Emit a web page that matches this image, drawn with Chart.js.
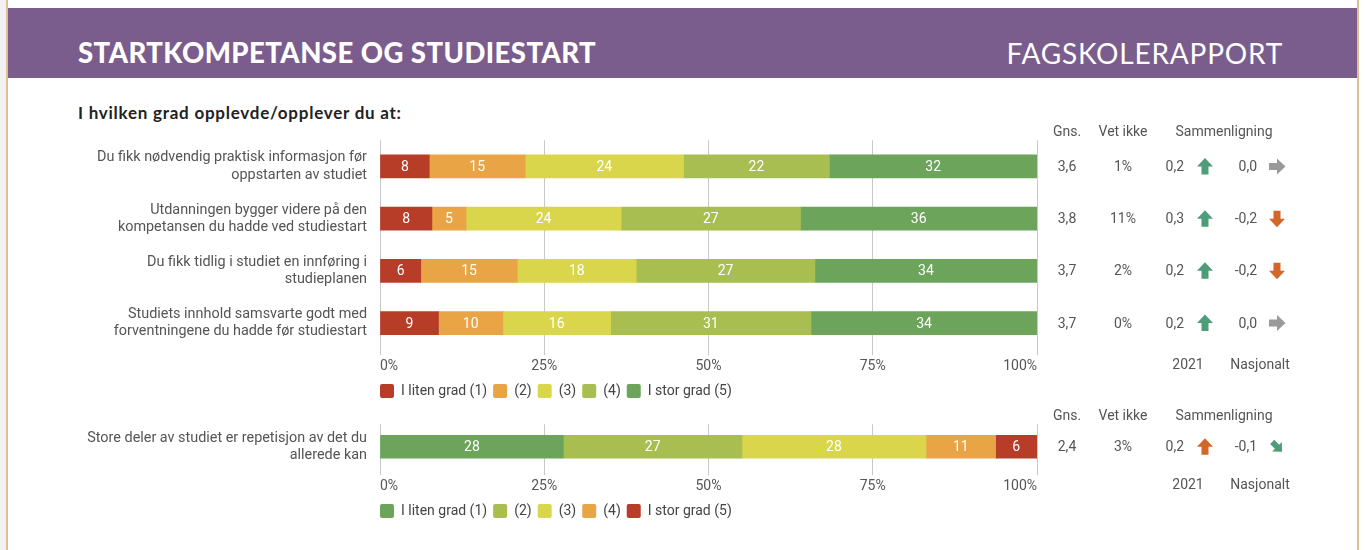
<!DOCTYPE html>
<html>
<head>
<meta charset="utf-8">
<script src="https://cdn.jsdelivr.net/npm/chart.js@4/dist/chart.umd.min.js"></script>
<style>
  html,body{margin:0;padding:0;background:#fff;}
  body{width:1365px;height:550px;position:relative;overflow:hidden;font-family:Roboto, sans-serif;}
  .lstrip{position:absolute;left:0;top:0;width:6px;height:550px;background:#f1f1f1;}
  .lline{position:absolute;left:6px;top:0;width:2px;height:550px;background:#dcbf93;}
  .rline{position:absolute;left:1357px;top:0;width:2px;height:550px;background:#dcbf93;}
  .band{position:absolute;left:8px;top:8px;width:1349px;height:70px;background:#7a5c8d;}
  .title{position:absolute;left:78px;top:36px;color:#fff;font-family:Lato, sans-serif;font-weight:900;font-size:27.5px;line-height:34px;letter-spacing:0.45px;white-space:nowrap;}
  .brand{position:absolute;right:82px;top:36px;color:#fff;font-family:Lato, sans-serif;font-weight:400;font-size:28px;line-height:34px;letter-spacing:0.8px;white-space:nowrap;}
  .sub{position:absolute;left:78px;top:102px;color:#222;font-family:Lato, sans-serif;font-weight:700;font-size:17px;line-height:22px;letter-spacing:0.75px;white-space:nowrap;}
  canvas{position:absolute;left:0;}
  #c1{top:110px;}
  #c2{top:394px;}
</style>
</head>
<body>
<div class="lstrip"></div><div class="lline"></div><div class="rline"></div>
<div class="band"></div>
<div class="title">STARTKOMPETANSE OG STUDIESTART</div>
<div class="brand">FAGSKOLERAPPORT</div>
<div class="sub">I hvilken grad opplevde/opplever du at:</div>
<canvas id="c1" width="1365" height="298" style="width:1365px;height:298px"></canvas>
<canvas id="c2" width="1365" height="134" style="width:1365px;height:134px"></canvas>
<script>
// ---------- Data: chart 1 ----------
const categories1 = [
  ["Du fikk nødvendig praktisk informasjon før", "oppstarten av studiet"],
  ["Utdanningen bygger videre på den", "kompetansen du hadde ved studiestart"],
  ["Du fikk tidlig i studiet en innføring i", "studieplanen"],
  ["Studiets innhold samsvarte godt med", "forventningene du hadde før studiestart"]
];
const seriesNames1 = ["I liten grad (1)", "(2)", "(3)", "(4)", "I stor grad (5)"];
const level1_1 = [7.5, 7.9, 6.2, 8.9];
const level2_1 = [14.6, 5.2, 14.7, 9.8];
const level3_1 = [24.1, 23.6, 18.1, 16.4];
const level4_1 = [22.2, 27.3, 27.2, 30.5];
const level5_1 = [31.6, 36.0, 33.8, 34.4];
const gns1 = ["3,6", "3,8", "3,7", "3,7"];
const vetIkke1 = ["1%", "11%", "2%", "0%"];
const cmp2021_1 = ["0,2", "0,3", "0,2", "0,2"];
const dir2021_1 = ["up", "up", "up", "up"];
const tone2021_1 = ["good", "good", "good", "good"];
const cmpNasj_1 = ["0,0", "-0,2", "-0,2", "0,0"];
const dirNasj_1 = ["right", "down", "down", "right"];
const toneNasj_1 = ["neutral", "bad", "bad", "neutral"];

// ---------- Data: chart 2 ----------
const categories2 = [["Store deler av studiet er repetisjon av det du", "allerede kan"]];
const seriesNames2 = ["I liten grad (1)", "(2)", "(3)", "(4)", "I stor grad (5)"];
const level1_2 = [27.9];
const level2_2 = [27.2];
const level3_2 = [28.0];
const level4_2 = [10.6];
const level5_2 = [6.3];
const gns2 = ["2,4"];
const vetIkke2 = ["3%"];
const cmp2021_2 = ["0,2"];
const dir2021_2 = ["up"];
const tone2021_2 = ["bad"];
const cmpNasj_2 = ["-0,1"];
const dirNasj_2 = ["downright"];
const toneNasj_2 = ["good"];

const xTicks = [0, 25, 50, 75, 100];

// ---------- Styling ----------
const RED = "#b83d29", ORANGE = "#e8a445", YELLOW = "#dad64c", LGREEN = "#a8be50", GREEN = "#6ca45b";
const colors1 = [RED, ORANGE, YELLOW, LGREEN, GREEN];
const colors2 = [GREEN, LGREEN, YELLOW, ORANGE, RED];
const TONE = { good: "#4f9c7a", bad: "#d2672a", neutral: "#9a9a9a" };
const TEXT = "#555";

Chart.defaults.font.family = "Roboto, sans-serif";
Chart.defaults.font.size = 14;
Chart.defaults.color = TEXT;
Chart.defaults.animation = false;

const barLabels = {
  id: "barLabels",
  afterDatasetsDraw(chart) {
    const ctx = chart.ctx;
    ctx.save();
    ctx.font = "14px Roboto, sans-serif";
    ctx.fillStyle = "#fff";
    ctx.textAlign = "center";
    ctx.textBaseline = "middle";
    chart.data.datasets.forEach((ds, di) => {
      const meta = chart.getDatasetMeta(di);
      meta.data.forEach((bar, i) => {
        const p = bar.getProps(["x", "y", "base"], true);
        ctx.fillText(String(Math.round(ds.data[i])), (p.x + p.base) / 2, p.y + 1);
      });
    });
    ctx.restore();
  }
};

// shift the legend so its first box starts at the chart area's left edge
const legendShift = {
  id: "legendShift",
  afterLayout(chart) {
    const lg = chart.legend;
    if (!lg) return;
    const pad = lg.options.labels.padding;
    lg.left -= pad;
    lg.right -= pad;
  }
};

function drawArrow(ctx, cx, cy, dir, color) {
  const ang = { up: 0, right: Math.PI / 2, down: Math.PI, downright: Math.PI * 3 / 4 }[dir];
  const s = dir === "downright" ? 0.85 : 1;
  ctx.save();
  ctx.translate(cx, cy);
  ctx.rotate(ang);
  ctx.scale(s, s);
  ctx.fillStyle = color;
  ctx.beginPath();
  ctx.moveTo(0, -8.5);
  ctx.lineTo(8, 0);
  ctx.lineTo(3.5, 0);
  ctx.lineTo(3.5, 8);
  ctx.lineTo(-3.5, 8);
  ctx.lineTo(-3.5, 0);
  ctx.lineTo(-8, 0);
  ctx.closePath();
  ctx.fill();
  ctx.restore();
}

const sideTable = {
  id: "sideTable",
  afterDraw(chart, args, o) {
    const { ctx, chartArea } = chart;
    const y = chart.scales.y;
    ctx.save();
    ctx.font = "14px Roboto, sans-serif";
    ctx.fillStyle = TEXT;
    ctx.textBaseline = "middle";
    ctx.textAlign = "center";
    const hy = chartArea.top - 8;
    ctx.fillText("Gns.", 1067, hy);
    ctx.fillText("Vet ikke", 1123, hy);
    ctx.fillText("Sammenligning", 1224, hy);
    const fy = chartArea.bottom + 16;
    ctx.fillText("2021", 1188, fy);
    ctx.fillText("Nasjonalt", 1260, fy);
    o.gns.forEach((g, i) => {
      const py = y.getPixelForValue(i) + 1;
      ctx.textAlign = "center";
      ctx.fillStyle = TEXT;
      ctx.fillText(g, 1067, py);
      ctx.fillText(o.vet[i], 1123, py);
      ctx.textAlign = "right";
      ctx.fillText(o.c21[i], 1184, py);
      ctx.fillText(o.cN[i], 1257, py);
      drawArrow(ctx, 1205, py - 1, o.d21[i], TONE[o.t21[i]]);
      drawArrow(ctx, 1277, py - 1, o.dN[i], TONE[o.tN[i]]);
    });
    ctx.restore();
  }
};

function makeChart(id, cats, names, series, cols, table, padTop) {
  return new Chart(document.getElementById(id), {
    type: "bar",
    data: {
      labels: cats,
      datasets: series.map((d, k) => ({
        label: names[k],
        data: d,
        backgroundColor: cols[k],
        borderWidth: 0,
        barThickness: 23
      }))
    },
    options: {
      indexAxis: "y",
      responsive: false,
      maintainAspectRatio: false,
      layout: { padding: { left: 60, right: 328, top: padTop, bottom: 0 } },
      scales: {
        x: {
          stacked: true,
          min: 0, max: 100,
          afterBuildTicks: (s) => { s.ticks = xTicks.map(v => ({ value: v })); },
          ticks: { align: "inner", padding: 3, callback: (v) => v + "%", color: TEXT, font: { size: 14 } },
          grid: { color: "#c8c8c8", lineWidth: 1, drawTicks: true, tickLength: 6 },
          border: { display: false }
        },
        y: {
          stacked: true,
          afterFit: (s) => { s.width = 320; },
          grid: { display: false, drawTicks: false },
          border: { display: false },
          ticks: { padding: 13, color: TEXT, font: { size: 14.4 } }
        }
      },
      plugins: {
        legend: {
          position: "bottom",
          align: "start",
          fullSize: false,
          labels: { boxWidth: 14, boxHeight: 14, useBorderRadius: true, borderRadius: 2, padding: 6, color: "#444", font: { size: 14 } }
        },
        tooltip: { enabled: false },
        sideTable: table
      }
    },
    plugins: [barLabels, sideTable, legendShift]
  });
}

makeChart("c1", categories1, seriesNames1,
  [level1_1, level2_1, level3_1, level4_1, level5_1], colors1,
  { gns: gns1, vet: vetIkke1, c21: cmp2021_1, d21: dir2021_1, t21: tone2021_1, cN: cmpNasj_1, dN: dirNasj_1, tN: toneNasj_1 }, 18);

makeChart("c2", categories2, seriesNames2,
  [level1_2, level2_2, level3_2, level4_2, level5_2], colors2,
  { gns: gns2, vet: vetIkke2, c21: cmp2021_2, d21: dir2021_2, t21: tone2021_2, cN: cmpNasj_2, dN: dirNasj_2, tN: toneNasj_2 }, 13);
</script>
</body>
</html>
